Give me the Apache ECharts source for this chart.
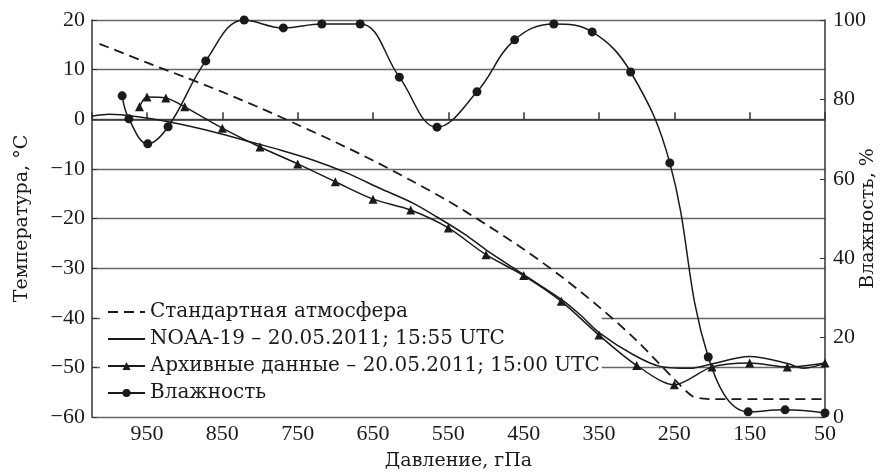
<!DOCTYPE html>
<html>
<head>
<meta charset="utf-8"/>
<title>Профиль температуры и влажности</title>
<script src="https://cdn.jsdelivr.net/npm/echarts@6/dist/echarts.min.js"></script>
</head>
<body style="margin:0">
<div id="main" style="width:884px;height:475px;"></div>
<script type="text/javascript">
// стандартная атмосфера
var stdP = [1013, 950, 900, 850, 800, 750, 700, 650, 600, 550, 500, 450, 400, 350, 300, 250, 226, 210, 200, 150, 100, 50];
var stdT = [15.2, 11.4, 8.5, 5.5, 2.3, -1.1, -4.6, -8.3, -12.3, -16.5, -21.2, -26.2, -31.7, -37.8, -44.6, -52.4, -55.8, -56.3, -56.4, -56.4, -56.4, -56.4];

// NOAA-19
var noaaP = [1023, 1000, 962, 918, 860, 807, 773, 730, 685, 641, 597, 565, 528, 500, 450, 400, 375, 349, 305, 269, 229, 203, 150, 100, 79, 50];
var noaaT = [0.6, 1.0, 0.5, -0.6, -2.6, -4.8, -6.2, -8.2, -10.8, -13.9, -16.9, -19.7, -23.2, -26.3, -31.3, -36.3, -39.4, -43.1, -47.4, -49.8, -50.2, -49.4, -47.8, -49.2, -50.2, -49.2];

// архивные данные
var archP = [960, 950, 925, 900, 850, 800, 750, 700, 650, 600, 550, 500, 450, 400, 350, 300, 250, 200, 150, 100, 50];
var archT = [2.5, 4.5, 4.3, 2.5, -1.8, -5.6, -9.0, -12.6, -16.1, -18.3, -21.9, -27.3, -31.5, -36.7, -43.5, -49.6, -53.5, -49.9, -49.1, -49.9, -49.1];

// влажность
var humP = [983, 974, 949, 922, 872, 821, 769, 718, 667, 615, 565, 512, 462, 410, 359, 308, 256, 205, 152, 103, 50];
var humV = [80.9, 75.1, 68.8, 73.1, 89.7, 100, 98.0, 99.0, 99.0, 85.6, 73.0, 81.9, 95.0, 99.0, 97.0, 86.9, 64.0, 15.1, 1.3, 1.8, 1.0];

var names = ['Стандартная атмосфера', 'NOAA-19 – 20.05.2011; 15:55 UTC',
             'Архивные данные – 20.05.2011; 15:00 UTC', 'Влажность'];

function pairs(xs, ys) {
    var out = [];
    for (var i = 0; i < xs.length; i++) out.push([xs[i], ys[i]]);
    return out;
}

var font = 'Liberation Serif';
var font2 = 'DejaVu Serif';
var ink = '#1a1a1a';

var myChart = echarts.init(document.getElementById('main'));

var option = {
    animation: false,
    textStyle: {fontFamily: font, color: ink},
    grid: {left: 92, right: 59, top: 20, bottom: 58, outerBoundsMode: 'none', containLabel: false},
    legend: {
        orient: 'vertical',
        left: 100,
        top: 298,
        z: 1,
        padding: [3, 2, 3, 7],
        backgroundColor: '#fff',
        itemWidth: 37,
        itemHeight: 10,
        itemGap: 5,
        textStyle: {fontFamily: font2, fontSize: 20, color: ink, lineHeight: 22},
        data: [
            {name: names[0], itemStyle: {opacity: 0}},
            {name: names[1], itemStyle: {opacity: 0}},
            {name: names[2]},
            {name: names[3]}
        ]
    },
    xAxis: {
        type: 'value',
        inverse: true,
        min: 50,
        max: 1023,
        interval: 100,
        name: 'Давление, гПа',
        nameLocation: 'middle',
        nameGap: 35,
        nameMoveOverlap: false,
        nameTextStyle: {fontFamily: font2, fontSize: 19, color: ink},
        axisLine: {lineStyle: {color: '#333', width: 1.5}},
        axisTick: {inside: true, length: 7, lineStyle: {color: '#333', width: 1.5}},
        axisLabel: {
            fontFamily: font, fontSize: 22, color: ink, margin: 6,
            formatter: function (v) { return (v - 50) % 100 === 0 ? String(v) : ''; }
        },
        splitLine: {show: false}
    },
    yAxis: [
        {
            type: 'value',
            min: -60,
            max: 20,
            interval: 10,
            name: 'Температура, °C',
            nameLocation: 'middle',
            nameGap: 60,
            nameMoveOverlap: false,
            nameTextStyle: {fontFamily: font2, fontSize: 19, color: ink},
            axisLine: {show: true, lineStyle: {color: '#333', width: 1.5}},
            axisTick: {show: true, inside: true, length: 5, lineStyle: {color: '#333'}},
            axisLabel: {
                fontFamily: font, fontSize: 22, color: ink, margin: 7,
                formatter: function (v) { return v < 0 ? '\u2212' + Math.abs(v) : String(v); }
            },
            splitLine: {show: true, lineStyle: {color: '#666', width: 1.3}}
        },
        {
            type: 'value',
            min: 0,
            max: 100,
            interval: 20,
            position: 'right',
            name: 'Влажность, %',
            nameLocation: 'middle',
            nameGap: 34,
            nameMoveOverlap: false,
            nameTextStyle: {fontFamily: font2, fontSize: 19, color: ink},
            axisLine: {show: true, lineStyle: {color: '#333', width: 1.5}},
            axisTick: {show: true, inside: true, length: 5, lineStyle: {color: '#333'}},
            axisLabel: {fontFamily: font, fontSize: 22, color: ink, margin: 8},
            splitLine: {show: false}
        }
    ],
    series: [
        {
            name: names[0],
            type: 'line',
            data: pairs(stdP, stdT),
            smooth: 0.3,
            symbol: 'none',
            lineStyle: {color: ink, width: 1.8, type: [10, 6]},
            itemStyle: {color: ink}
        },
        {
            name: names[1],
            type: 'line',
            data: pairs(noaaP, noaaT),
            smooth: 0.3,
            symbol: 'none',
            lineStyle: {color: ink, width: 1.5},
            itemStyle: {color: ink}
        },
        {
            name: names[2],
            type: 'line',
            data: pairs(archP, archT),
            smooth: 0.3,
            symbol: 'triangle',
            symbolSize: 9,
            lineStyle: {color: ink, width: 1.5},
            itemStyle: {color: ink}
        },
        {
            name: names[3],
            type: 'line',
            yAxisIndex: 1,
            data: pairs(humP, humV),
            smooth: 0.4,
            symbol: 'circle',
            symbolSize: 9,
            lineStyle: {color: ink, width: 1.5},
            itemStyle: {color: ink}
        }
    ]
};

myChart.setOption(option);
</script>
</body>
</html>
